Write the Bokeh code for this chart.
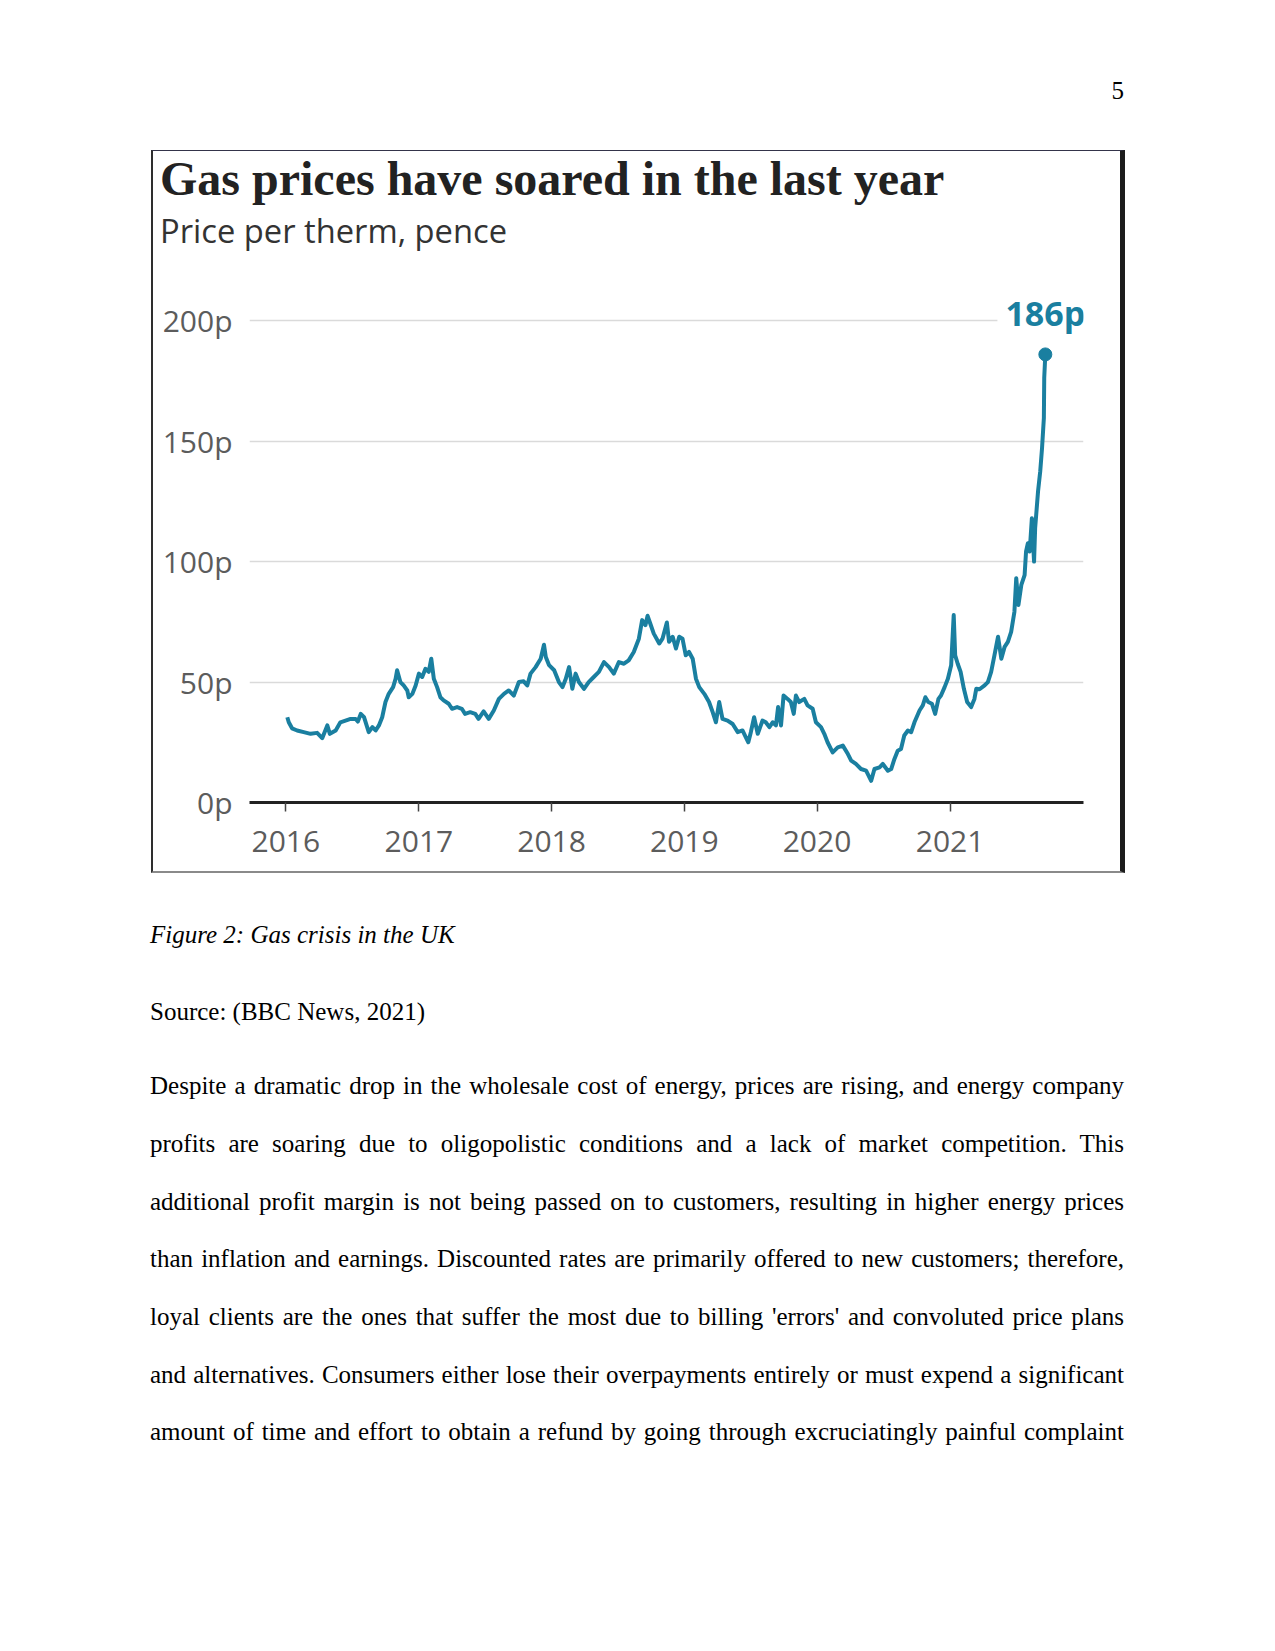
import pandas as pd
from bokeh.plotting import figure
from bokeh.models import (Range1d, FixedTicker, DatetimeTickFormatter, Label, Div,
                          Spacer, CustomJSTickFormatter, ColumnDataSource)
from bokeh.layouts import column, row
from bokeh.embed import file_html
from bokeh.resources import INLINE

# ---------------- data ----------------
dates = [
    "2016-01-05", "2016-01-09", "2016-01-18", "2016-02-01", "2016-02-19", "2016-03-09",
    "2016-03-27", "2016-04-10", "2016-04-24", "2016-05-01", "2016-05-17", "2016-05-30",
    "2016-06-13", "2016-06-27", "2016-07-11", "2016-07-17", "2016-07-25", "2016-08-03",
    "2016-08-16", "2016-08-26", "2016-09-04", "2016-09-13", "2016-09-22", "2016-10-01",
    "2016-10-10", "2016-10-22", "2016-10-29", "2016-11-02", "2016-11-11", "2016-11-20",
    "2016-11-30", "2016-12-04", "2016-12-14", "2016-12-23",
    "2017-01-01", "2017-01-10", "2017-01-19", "2017-01-28", "2017-02-04", "2017-02-11",
    "2017-02-20", "2017-03-01", "2017-03-10", "2017-03-24", "2017-04-02", "2017-04-16",
    "2017-04-29", "2017-05-08", "2017-05-22", "2017-06-05", "2017-06-14", "2017-06-28",
    "2017-07-12", "2017-07-26", "2017-08-09", "2017-08-23", "2017-09-05", "2017-09-19",
    "2017-10-03", "2017-10-16", "2017-10-26", "2017-11-04", "2017-11-18", "2017-12-02",
    "2017-12-11", "2017-12-16", "2017-12-25",
    "2018-01-08", "2018-01-21", "2018-01-31", "2018-02-09", "2018-02-18", "2018-02-27",
    "2018-03-08", "2018-03-17", "2018-03-31", "2018-04-13", "2018-04-27", "2018-05-11",
    "2018-05-25", "2018-06-08", "2018-06-21", "2018-07-05", "2018-07-19", "2018-08-01",
    "2018-08-15", "2018-08-29", "2018-09-07", "2018-09-16", "2018-09-22", "2018-09-30",
    "2018-10-09", "2018-10-24", "2018-11-02", "2018-11-14", "2018-11-20", "2018-11-30",
    "2018-12-09", "2018-12-18", "2018-12-27",
    "2019-01-05", "2019-01-14", "2019-01-24", "2019-02-02", "2019-02-11", "2019-02-25",
    "2019-03-10", "2019-03-20", "2019-03-29", "2019-04-07", "2019-04-16", "2019-04-30",
    "2019-05-14", "2019-05-28", "2019-06-10", "2019-06-26", "2019-07-03", "2019-07-12",
    "2019-07-22", "2019-08-04", "2019-08-13", "2019-08-23", "2019-09-01", "2019-09-10",
    "2019-09-16", "2019-09-24", "2019-10-01", "2019-10-12", "2019-10-21", "2019-10-29",
    "2019-11-04", "2019-11-13", "2019-11-27", "2019-12-06", "2019-12-20", "2019-12-29",
    "2020-01-12", "2020-01-21", "2020-01-30", "2020-02-13", "2020-02-27", "2020-03-12",
    "2020-03-26", "2020-04-04", "2020-04-17", "2020-05-01", "2020-05-15", "2020-05-29",
    "2020-06-07", "2020-06-21", "2020-06-30", "2020-07-14", "2020-07-23", "2020-08-01",
    "2020-08-10", "2020-08-19", "2020-08-28", "2020-09-07", "2020-09-16", "2020-09-25",
    "2020-10-09", "2020-10-18", "2020-10-25", "2020-11-02", "2020-11-12", "2020-11-21",
    "2020-11-30", "2020-12-07", "2020-12-17", "2020-12-26",
    "2021-01-04", "2021-01-11", "2021-01-15", "2021-01-22", "2021-01-30", "2021-02-08",
    "2021-02-17", "2021-02-28", "2021-03-09", "2021-03-14", "2021-03-23", "2021-04-06",
    "2021-04-15", "2021-04-24", "2021-05-03", "2021-05-13", "2021-05-22", "2021-05-31",
    "2021-06-09", "2021-06-18", "2021-06-27", "2021-07-02", "2021-07-08", "2021-07-16",
    "2021-07-25", "2021-07-29", "2021-08-03", "2021-08-08", "2021-08-14", "2021-08-20",
    "2021-08-23", "2021-08-31", "2021-09-06", "2021-09-11", "2021-09-16", "2021-09-17",
    "2021-09-20",
]
price_pence = [
    35.4, 33.3, 30.8, 29.9, 29.2, 28.5,
    28.9, 26.7, 32.0, 28.5, 29.9, 33.3,
    34.0, 34.7, 34.7, 33.6, 36.8, 35.4,
    29.2, 31.3, 29.9, 32.0, 35.4, 41.7,
    45.1, 47.9, 51.4, 54.9, 50.0, 48.6,
    46.5, 43.7, 45.1, 48.6,
    53.5, 52.1, 55.5, 54.2, 59.7, 51.4,
    47.9, 43.7, 42.4, 41.0, 38.9, 39.6,
    38.9, 36.8, 37.5, 36.8, 34.7, 37.8,
    34.7, 38.2, 43.0, 45.1, 46.5, 44.4,
    50.0, 50.3, 48.6, 53.5, 56.2, 59.7,
    65.5, 60.4, 57.0,
    54.9, 50.0, 47.9, 51.4, 56.2, 47.2,
    53.5, 50.0, 47.2, 50.0, 52.1, 54.2,
    58.3, 56.2, 53.5, 58.3, 57.6, 59.0,
    62.5, 68.0, 75.7, 73.6, 77.5, 74.0,
    70.1, 66.0, 68.0, 74.7, 66.7, 68.8,
    63.9, 68.8, 68.0,
    61.1, 62.5, 59.7, 51.4, 47.9, 45.1,
    41.7, 37.5, 33.3, 41.7, 34.7, 34.0,
    32.6, 29.2, 29.9, 25.0, 29.2, 35.4,
    28.5, 34.0, 33.3, 31.3, 33.3, 32.0,
    39.6, 32.0, 44.4, 43.0, 41.7, 36.8,
    44.4, 41.7, 43.0, 40.3, 38.9, 33.3,
    31.3, 28.5, 25.0, 20.8, 22.9, 23.6,
    20.1, 17.4, 16.0, 13.9, 13.2, 9.0,
    13.9, 14.6, 16.0, 13.2, 13.9, 18.1,
    21.5, 22.2, 27.8, 29.9, 29.2, 33.3,
    38.2, 40.3, 43.7, 41.7, 41.0, 36.8,
    43.0, 44.4, 47.9, 51.4,
    57.0, 77.8, 61.1, 57.6, 54.2, 47.2,
    41.7, 39.6, 43.0, 47.2, 47.0, 48.6,
    50.0, 54.2, 61.1, 68.8, 59.7, 64.6,
    66.7, 70.8, 79.2, 93.1, 82.0, 90.3,
    94.4, 104.2, 107.6, 104.2, 118.0, 100.0,
    113.9, 129.2, 137.5, 147.2, 159.7, 176.4,
    186.0,
]
year_ticks = [2016, 2017, 2018, 2019, 2020, 2021]
y_ticks = [0, 50, 100, 150, 200]

title_text = "Gas prices have soared in the last year"
subtitle_text = "Price per therm, pence"

# ---------------- styling ----------------
TEAL = "#1a7fa0"
SANS = "Open Sans"
BOX_L = "2px solid #2e2e2e"
BOX_R = "5px solid #1c1c1c"

src = ColumnDataSource(dict(date=pd.to_datetime(dates), price=price_pence))

p = figure(
    width=967, height=616,
    x_axis_type="datetime",
    x_range=Range1d(pd.Timestamp("2015-09-23"), pd.Timestamp("2022-01-03")),
    y_range=Range1d(0, 530 / 2.4),
    output_backend="svg", toolbar_location=None,
    min_border_left=96, min_border_right=44, min_border_top=15, min_border_bottom=71,
    background_fill_color="white", border_fill_color="white",
    outline_line_color=None,
    styles={
        "box-sizing": "content-box",
        "border-left": BOX_L,
        "border-right": BOX_R,
        "border-bottom": "2px solid #8a8a8a",
    },
)

p.line("date", "price", source=src, line_color=TEAL, line_width=4, line_join="round")
last_date = pd.to_datetime(dates[-1])
last_val = price_pence[-1]
p.scatter([last_date], [last_val], size=13, color=TEAL)

end_lbl = Label(x=last_date, y=last_val, y_offset=41, text=f"{round(last_val)}p",
                text_align="center", text_baseline="middle",
                text_font=SANS, text_font_size="34px", text_font_style="bold",
                text_color=TEAL, background_fill_color="white", padding=8)
p.add_layout(end_lbl)

# axes
p.xaxis.ticker = FixedTicker(ticks=[pd.Timestamp(f"{y}-01-01").value // 10**6 for y in year_ticks])
p.xaxis.formatter = DatetimeTickFormatter(years="%Y", months="%Y", days="%Y", hours="%Y")
p.xaxis.axis_line_color = "#222222"
p.xaxis.axis_line_width = 3
p.xaxis.major_tick_line_color = "#444444"
p.xaxis.major_tick_line_width = 1.5
p.xaxis.major_tick_out = 9
p.xaxis.major_tick_in = 0
p.xaxis.minor_tick_line_color = None
p.xaxis.major_label_standoff = 19
p.xaxis.major_label_text_font = SANS
p.xaxis.major_label_text_font_size = "30px"
p.xaxis.major_label_text_color = "#5c5c5c"

p.yaxis.ticker = FixedTicker(ticks=y_ticks)
p.yaxis.formatter = CustomJSTickFormatter(code="return tick + 'p';")
p.yaxis.axis_line_color = None
p.yaxis.major_tick_line_color = None
p.yaxis.minor_tick_line_color = None
p.yaxis.major_tick_out = 0
p.yaxis.major_tick_in = 0
p.yaxis.major_label_standoff = 17
p.yaxis.major_label_text_font = SANS
p.yaxis.major_label_text_font_size = "30px"
p.yaxis.major_label_text_color = "#5c5c5c"

p.xgrid.grid_line_color = None
p.ygrid.ticker = FixedTicker(ticks=y_ticks[1:])
p.ygrid.grid_line_color = "#dadada"
p.ygrid.grid_line_width = 1.5

# chart heading (upper part of the framed chart box)
head_html = (
    "<div style=\"position:relative;width:967px;height:104px;\">"
    f"<div style=\"position:absolute;left:7px;top:-0.5px;white-space:nowrap;"
    f"font-family:'Liberation Serif',serif;font-weight:bold;font-size:48px;line-height:56px;color:#222222;\">{title_text}</div>"
    f"<div style=\"position:absolute;left:7px;top:59.5px;white-space:nowrap;"
    f"font-family:'Open Sans',sans-serif;font-size:32.7px;line-height:40px;color:#333333;\">{subtitle_text}</div>"
    "</div>"
)
head_div = Div(width=967, height=104, text=head_html, margin=0,
               styles={"box-sizing": "content-box", "border-top": "1px solid #34344a",
                       "border-left": BOX_L, "border-right": BOX_R,
                       "background-color": "white"})

# ---------------- page text ----------------
serif = "font-family:'Liberation Serif','Times New Roman',serif;font-size:25px;line-height:30px;color:#000;"

top_div = Div(width=1259, height=150, margin=0, text=(
    f"<div style=\"position:relative;width:1259px;height:150px;{serif}\">"
    "<div style=\"position:absolute;right:135px;top:75.5px;\">5</div></div>"))

caption = "Figure 2: Gas crisis in the UK"
source_line = "Source: (BBC News, 2021)"
para_lines = [
    "Despite a dramatic drop in the wholesale cost of energy, prices are rising, and energy company",
    "profits are soaring due to oligopolistic conditions and a lack of market competition. This",
    "additional profit margin is not being passed on to customers, resulting in higher energy prices",
    "than inflation and earnings. Discounted rates are primarily offered to new customers; therefore,",
    "loyal clients are the ones that suffer the most due to billing 'errors' and convoluted price plans",
    "and alternatives. Consumers either lose their overpayments entirely or must expend a significant",
    "amount of time and effort to obtain a refund by going through excruciatingly painful complaint",
]
line_tops = [198.1, 256.0, 314.0, 370.8, 428.7, 486.6, 543.5]

html = [f"<div style=\"position:relative;width:1259px;height:700px;{serif}\">"]
html.append(f"<div style=\"position:absolute;left:150px;top:46.5px;font-style:italic;white-space:nowrap;\">{caption}</div>")
html.append(f"<div style=\"position:absolute;left:150px;top:124.4px;white-space:nowrap;\">{source_line}</div>")
for t, ln in zip(line_tops, para_lines):
    html.append(f"<div style=\"position:absolute;left:150px;top:{t}px;width:974px;white-space:nowrap;"
                f"text-align:justify;text-align-last:justify;\">{ln}</div>")
html.append("</div>")
bottom_div = Div(width=1259, height=700, margin=0, text="".join(html))

layout = column(
    top_div,
    row(Spacer(width=151, height=105), head_div),
    row(Spacer(width=151, height=618), p),
    bottom_div,
)

with open("out.html", "w") as f:
    f.write(file_html(layout, INLINE))
